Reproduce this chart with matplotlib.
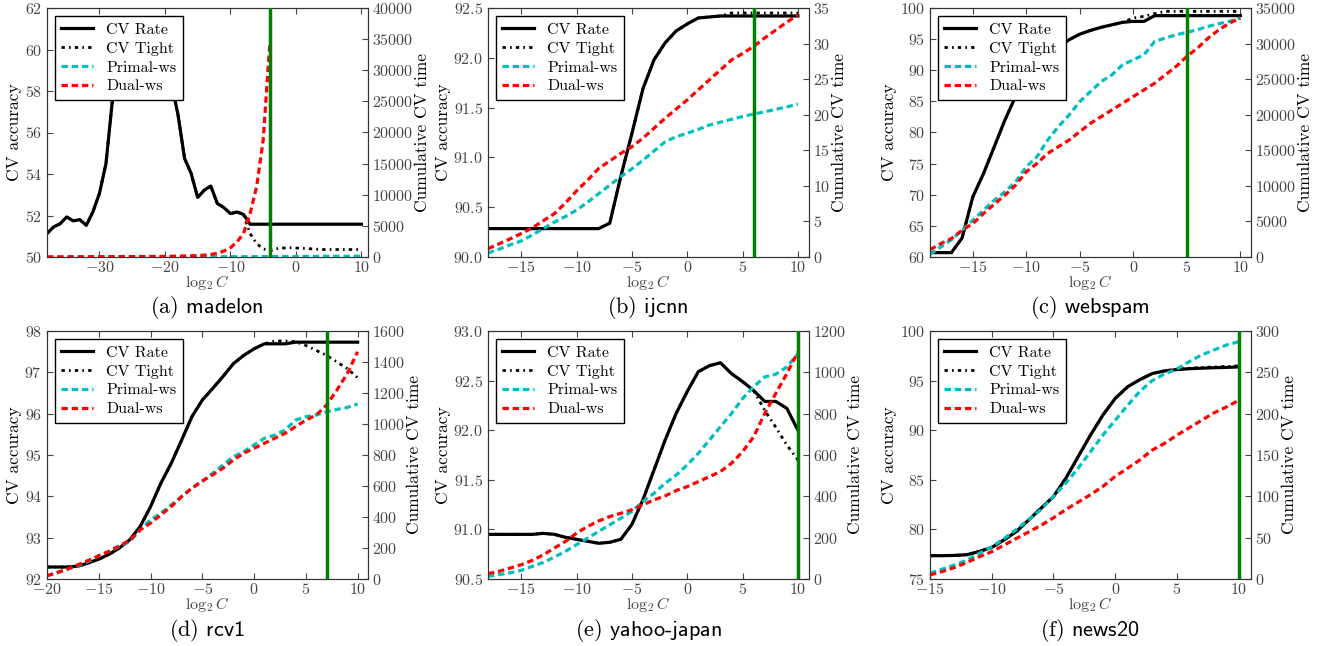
import numpy as np
import matplotlib
matplotlib.use("Agg")
import matplotlib.pyplot as plt
from matplotlib.ticker import MultipleLocator

plt.rcParams["font.family"] = "cmr10"
plt.rcParams["mathtext.fontset"] = "cm"
plt.rcParams["axes.formatter.use_mathtext"] = True
plt.rcParams["axes.unicode_minus"] = True

# ---- data ----
# (a) madelon
madelon_x = np.arange(-38, 11)
madelon_rate = [51.13, 51.45, 51.6, 51.93, 51.74, 51.8, 51.53, 52.17, 53.06, 54.5,
                57.6, 59.5, 60.5, 61.0, 61.2, 61.0, 60.5, 59.8, 59.2, 58.38,
                56.85, 54.75, 54.03, 52.87, 53.22, 53.42, 52.58, 52.38, 52.09, 52.17,
                52.05, 51.58] + [51.58] * 17
madelon_tight = madelon_rate[:31] + [51.13, 50.64, 50.4, 50.29, 50.4, 50.43, 50.45, 50.43,
                                     50.42, 50.4, 50.38] + [50.36] * 7
madelon_primal = [2, 3, 4, 5, 6, 7, 8, 9, 10, 11, 12, 13, 14, 15, 16, 17, 18, 19, 20, 22,
                  24, 26, 28, 30, 33, 36, 39, 42, 45, 48, 52, 56, 60, 64, 68, 72, 76, 80,
                  85, 90, 95, 100, 105, 110, 115, 120, 125, 130, 135]
madelon_dual_x = np.arange(-38, -3)
madelon_dual = [10, 15, 20, 25, 30, 35, 40, 45, 50, 55, 60, 65, 70, 75, 80, 85, 90, 95, 100,
                120, 140, 160, 190, 230, 300, 400, 600, 950, 1500, 2400, 3800, 7000,
                11300, 18800, 34100]

# (b) ijcnn
ijcnn_x = np.arange(-18, 11)
ijcnn_rate = [90.285] * 11 + [90.34, 90.81, 91.24, 91.69, 91.98, 92.15, 92.27, 92.34,
                              92.4, 92.41] + [92.42] * 8
ijcnn_tight = ijcnn_rate[:22] + [92.45] * 7
ijcnn_primal = [0.56, 1.1, 1.7, 2.25, 3.1, 4.0, 4.9, 5.7, 6.6, 7.7, 8.9, 10.1, 11.3, 12.4,
                13.6, 14.9, 16.2, 16.9, 17.4, 17.94, 18.55, 18.95, 19.35, 19.75, 20.1,
                20.4, 20.76, 21.1, 21.5]
ijcnn_dual = [1.17, 1.85, 2.55, 3.3, 4.1, 5.1, 6.1, 7.6, 9.3, 10.8, 12.45, 13.5, 14.56,
              15.5, 16.7, 18.1, 19.5, 20.8, 22.08, 23.5, 24.9, 26.3, 27.7, 28.6, 29.6,
              30.8, 31.9, 33.0, 34.05]

# (c) webspam
webspam_x = np.arange(-19, 11)
webspam_rate = [60.7, 60.7, 60.7, 63.06, 69.66, 73.4, 77.7, 82.0, 85.8, 89.0, 91.7, 92.75,
                93.8, 94.9, 95.8, 96.4, 96.9, 97.3, 97.7, 97.85, 97.85] + [98.77] * 9
webspam_tight = webspam_rate[:19] + [98.4, 98.66, 99.1] + [99.46] * 8
webspam_primal = [380, 1400, 2440, 3758, 5168, 6577, 7987, 9161, 10570, 12685, 14094,
                  16443, 18322, 19967, 21845, 23254, 24664, 25600, 27013, 27718, 28423,
                  30302, 30772, 31242, 31570, 31946, 32416, 32792, 33120, 33590]
webspam_dual = [1034, 1880, 2584, 3758, 4698, 6107, 7423, 8691, 10100, 11980, 13154,
                14564, 15503, 16443, 17617, 18792, 19731, 20671, 21610, 22550, 23490,
                24429, 25604, 26778, 28188, 29362, 30772, 31946, 32886, 33590]

# (d) rcv1
rcv1_x = np.arange(-20, 11)
rcv1_rate = [92.29, 92.29, 92.29, 92.31, 92.39, 92.48, 92.6, 92.75, 92.95, 93.27, 93.75,
             94.32, 94.8, 95.36, 95.93, 96.33, 96.61, 96.9, 97.21, 97.41, 97.57, 97.69,
             97.69, 97.69] + [97.73] * 7
rcv1_tight = rcv1_rate[:22] + [97.76, 97.76, 97.74, 97.65, 97.53, 97.41, 97.25, 97.09, 96.87]
rcv1_primal = [21, 39, 64, 86, 114, 150, 178, 210, 242, 317, 382, 425, 478, 532, 586, 629,
               682, 736, 790, 822, 865, 908, 929, 961, 1025, 1047, 1058, 1079, 1094,
               1107, 1129]
rcv1_dual = [21, 43, 64, 92, 120, 150, 178, 215, 249, 317, 360, 414, 468, 532, 586, 633,
             672, 715, 768, 811, 843, 876, 908, 940, 983, 1025, 1058, 1122, 1219, 1326, 1466]

# (e) yahoo-japan
yahoo_x = np.arange(-18, 11)
yahoo_rate = [90.95, 90.95, 90.95, 90.95, 90.95, 90.96, 90.95, 90.92, 90.9, 90.88, 90.86,
              90.87, 90.90, 91.05, 91.30, 91.60, 91.9, 92.17, 92.39, 92.59, 92.65, 92.68,
              92.57, 92.49, 92.40, 92.29, 92.29, 92.22, 92.0]
yahoo_tight = yahoo_rate[:25] + [92.2, 92.03, 91.85, 91.7]
yahoo_primal = [13, 21, 30, 42, 61, 80, 106, 134, 166, 198, 230, 262, 294, 327, 375, 415,
                463, 503, 552, 608, 672, 737, 801, 873, 930, 978, 991, 1026, 1091]
yahoo_dual = [26, 37, 53, 69, 90, 117, 150, 182, 222, 254, 281, 302, 318, 335, 359, 383,
              402, 428, 447, 471, 495, 520, 560, 616, 688, 801, 898, 994, 1099]

# (f) news20
news20_x = np.arange(-15, 11)
news20_rate = [77.35, 77.35, 77.38, 77.45, 77.78, 78.18, 78.95, 79.79, 80.96, 82.14, 83.31,
               85.15, 87.33, 89.51, 91.52, 93.2, 94.37, 95.1, 95.71, 95.98, 96.11, 96.2,
               96.25, 96.3, 96.33, 96.38]
news20_tight = news20_rate[:20] + [96.15, 96.25, 96.32, 96.38, 96.42, 96.48]
news20_primal = [7, 12, 17, 23, 31, 39, 49, 60, 72, 84, 100, 116, 134, 154, 174, 192, 210,
                 227, 240, 248, 254, 263, 271, 277, 283, 287]
news20_dual = [5, 9, 14, 20, 27, 33, 41, 49, 57, 65, 74, 84, 93, 102, 112, 124, 134, 144,
               156, 164, 174, 183, 192, 201, 208, 216]

best_log2c = [-4, 6, 5, 7, 10, 10]
captions = ["(a)", "(b)", "(c)", "(d)", "(e)", "(f)"]
names = ["madelon", "ijcnn", "webspam", "rcv1", "yahoo-japan", "news20"]

panels = [
    (madelon_x, madelon_rate, madelon_tight, madelon_x, madelon_primal, madelon_dual_x, madelon_dual,
     (-38, 11), 10, (50, 62), 2, (0, 40000), 5000),
    (ijcnn_x, ijcnn_rate, ijcnn_tight, ijcnn_x, ijcnn_primal, ijcnn_x, ijcnn_dual,
     (-18, 11), 5, (90, 92.5), 0.5, (0, 35), 5),
    (webspam_x, webspam_rate, webspam_tight, webspam_x, webspam_primal, webspam_x, webspam_dual,
     (-19, 11), 5, (60, 100), 5, (0, 35000), 5000),
    (rcv1_x, rcv1_rate, rcv1_tight, rcv1_x, rcv1_primal, rcv1_x, rcv1_dual,
     (-20, 11), 5, (92, 98), 1, (0, 1600), 200),
    (yahoo_x, yahoo_rate, yahoo_tight, yahoo_x, yahoo_primal, yahoo_x, yahoo_dual,
     (-18, 11), 5, (90.5, 93.0), 0.5, (0, 1200), 200),
    (news20_x, news20_rate, news20_tight, news20_x, news20_primal, news20_x, news20_dual,
     (-15, 11), 5, (75, 100), 5, (0, 300), 50),
]

fig = plt.figure(figsize=(13.2, 6.46), dpi=100)

lefts = [47, 488, 930]
tops = [8, 331]
heights = [249, 248]
gray = "#444444"

for i, p in enumerate(panels):
    (x, rate, tight, px, primal, dx, dual, xlim, xstep, ylim, ystep, y2lim, y2step) = p
    row, col = divmod(i, 3)
    l = lefts[col] / 1320
    b = 1 - (tops[row] + heights[row]) / 646
    ax = fig.add_axes([l, b, 321 / 1320, heights[row] / 646])
    ax2 = ax.twinx()

    h1, = ax.plot(x, rate, color="black", lw=2.3, label="CV Rate")
    h2, = ax.plot(x, tight, color="black", lw=2.0, ls=(0, (1.2, 1.5, 0.6, 1.5)), label="CV Tight")
    h3, = ax2.plot(px, primal, color="c", lw=2.3, ls=(0, (2, 1.2)), label="Primal-ws")
    h4, = ax2.plot(dx, dual, color="r", lw=2.3, ls=(0, (2, 1.2)), label="Dual-ws")
    ax2.axvline(best_log2c[i], color="g", lw=2.5, zorder=5)

    ax.set_xlim(*xlim)
    ax.set_ylim(*ylim)
    ax2.set_ylim(*y2lim)
    ax.xaxis.set_major_locator(MultipleLocator(xstep))
    ax.yaxis.set_major_locator(MultipleLocator(ystep))
    ax2.yaxis.set_major_locator(MultipleLocator(y2step))

    ax.tick_params(axis="both", direction="in", labelsize=11.5, labelcolor=gray,
                   color=gray, top=True, length=4)
    ax.tick_params(axis="x", pad=2)
    ax2.tick_params(axis="y", direction="in", labelsize=11.5, labelcolor=gray,
                    color=gray, length=4, pad=3)
    for a in (ax, ax2):
        for s in a.spines.values():
            s.set_color("#333333")

    ax.set_ylabel("CV accuracy", fontsize=12.5, labelpad=2)
    ax2.set_ylabel("Cumulative CV time", fontsize=12.5, labelpad=1)
    ax.set_xlabel(r"$\log_2 C$", fontsize=11.5, color=gray, labelpad=-1)

    leg = ax2.legend(handles=[h1, h2, h3, h4], loc="upper left", fontsize=11.5,
                     fancybox=False, framealpha=1, edgecolor="black",
                     handlelength=2.0, borderaxespad=0.5, labelspacing=0.3)
    leg.set_zorder(10)
    leg.get_frame().set_linewidth(1.0)

    cy = 1 - (308 if row == 0 else 630) / 646
    cx = (lefts[col] + 160) / 1320
    fig.text(cx, cy, r"$\mathrm{" + captions[i] + "}$ " + names[i], family="cmss10",
             fontsize=16, ha="center", va="center")

fig.savefig("out.png", dpi=100)
